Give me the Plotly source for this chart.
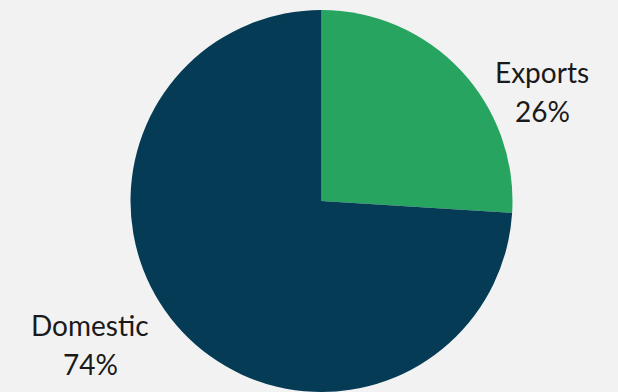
import plotly.graph_objects as go

labels = ["Exports", "Domestic"]
values = [26, 74]
colors = ["#27A460", "#053B55"]

W, H = 618, 392
T = 10
PH = H - T

def px(x):
    return x / W

def py(y):
    return 1 - (y - T) / PH

fig = go.Figure(go.Pie(
    labels=labels, values=values, sort=False, direction="clockwise", rotation=0,
    marker=dict(colors=colors, line=dict(width=0)),
    textinfo="none", hoverinfo="label+percent", showlegend=False,
    domain=dict(x=[130 / W, 513 / W], y=[0, 1]),
))

total = sum(values)
label_pos = {"Exports": (542, 72, 111), "Domestic": (90, 325, 364)}
anns = []
for lab, v in zip(labels, values):
    x, y1, y2 = label_pos[lab]
    pct = f"{round(100 * v / total)}%"
    for txt, yy in ((lab, y1), (pct, y2)):
        anns.append(dict(x=px(x), y=py(yy), xref="paper", yref="paper", text=txt,
                         showarrow=False, xanchor="center", yanchor="middle",
                         font=dict(family="Lato", size=28, color="#1a1a1a")))

fig.update_layout(
    width=W, height=H, margin=dict(l=0, r=0, t=T, b=0),
    paper_bgcolor="#F2F2F2", plot_bgcolor="#F2F2F2",
    annotations=anns,
)
fig.write_html("out.html", config={"displayModeBar": False},
               post_script="document.body.style.margin='0';document.body.style.overflow='hidden';document.body.style.background='#F2F2F2';")
